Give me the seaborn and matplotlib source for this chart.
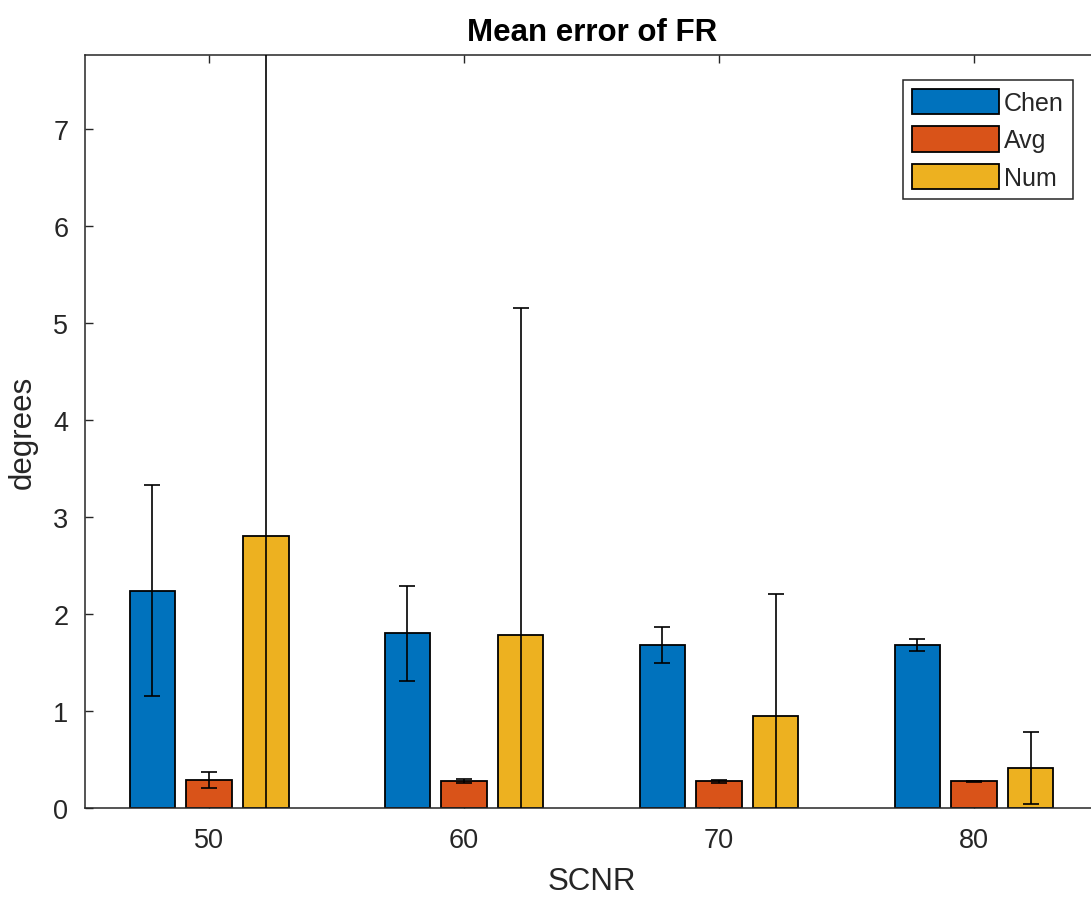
import matplotlib
matplotlib.use("Agg")
import matplotlib.pyplot as plt
import seaborn as sns
import pandas as pd

# ---- data ----
categories = ["50", "60", "70", "80"]
methods = ["Chen", "Avg", "Num"]
chen = [2.24, 1.80, 1.68, 1.68]
chen_err = [1.09, 0.49, 0.19, 0.06]
avg = [0.29, 0.275, 0.275, 0.275]
avg_err = [0.085, 0.02, 0.015, 0.005]
num = [2.80, 1.78, 0.945, 0.415]
num_err = [5.3, 3.37, 1.26, 0.37]
colors = ["#0072BD", "#D95319", "#EDB120"]

values = {"Chen": chen, "Avg": avg, "Num": num}
errors = {"Chen": chen_err, "Avg": avg_err, "Num": num_err}

rows = []
for m in methods:
    for c, v, e in zip(categories, values[m], errors[m]):
        rows.append({"SCNR": c, "method": m, "value": v, "err": e})
df = pd.DataFrame(rows)

sns.set_theme(style="ticks")
plt.rcParams["font.family"] = ["Liberation Sans", "DejaVu Sans"]
dark = "#262626"

fig = plt.figure(figsize=(10.91, 9.04), dpi=100)
W, H = 1091, 904
ax_left, ax_right, ax_top, ax_bottom = 85, 1099, 56, 809
ax = fig.add_axes([ax_left / W, (H - ax_bottom) / H,
                   (ax_right - ax_left) / W, (ax_bottom - ax_top) / H])

sns.barplot(data=df, x="SCNR", y="value", hue="method", order=categories,
            hue_order=methods, palette=dict(zip(methods, colors)),
            errorbar=None, width=0.667, gap=0.2, saturation=1,
            edgecolor="black", linewidth=1.3, ax=ax)

# error bars at bar centres
for m, cont in zip(methods, ax.containers):
    xs = [b.get_x() + b.get_width() / 2 for b in cont]
    ax.errorbar(xs, values[m], yerr=errors[m], fmt="none", ecolor="black",
                elinewidth=1.2, capsize=5.5, capthick=1.2, zorder=3)

ax.set_xlim(-0.487, 3.49)
ax.set_ylim(0, 7.76)
ax.set_yticks(range(0, 8))

for s in ax.spines.values():
    s.set_visible(True)
    s.set_color(dark)
    s.set_linewidth(1.1)

ax.tick_params(axis="both", direction="in", length=5.5, width=1.0, color=dark,
               labelcolor=dark, labelsize=19.5, top=True, right=True)
ax.tick_params(axis="x", pad=14)
ax.tick_params(axis="y", pad=12)

ax.set_xlabel("SCNR", fontsize=22.5, color=dark, labelpad=9)
ax.set_ylabel("degrees", fontsize=22.5, color=dark, labelpad=11)
ax.set_title("Mean error of FR", fontsize=22.5, fontweight="bold",
             color="black", pad=11)

handles, labels = ax.get_legend_handles_labels()
leg = ax.legend(handles, labels, loc="upper right",
                bbox_to_anchor=(0.974, 0.967), borderaxespad=0,
                fontsize=18, frameon=True, fancybox=False, framealpha=1,
                edgecolor=dark, handlelength=3.5, handleheight=1.2,
                handletextpad=0.2, labelspacing=0.45, borderpad=0.35)
leg.get_frame().set_linewidth(1.1)
for t in leg.get_texts():
    t.set_color(dark)

fig.savefig("out.png", dpi=100)
